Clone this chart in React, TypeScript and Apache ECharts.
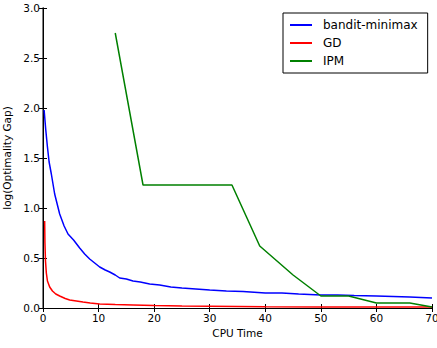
import React, { useEffect, useRef } from "react";
import * as echarts from "echarts";

const banditX = [0.2, 0.5, 0.8, 1.1, 1.5, 2.1, 3.0, 3.8, 4.5, 5.5, 6.6, 7.5, 8.4, 9.3, 10.2, 11.2, 12, 13, 13.8, 15, 16.2, 17.5, 19.2, 21, 23, 25, 27.5, 30, 33, 36, 40, 43, 46, 50, 53, 56, 60, 63, 66, 70];
const banditY = [1.98, 1.78, 1.61, 1.46, 1.34, 1.14, 0.94, 0.82, 0.74, 0.68, 0.6, 0.54, 0.49, 0.45, 0.41, 0.38, 0.36, 0.33, 0.3, 0.29, 0.27, 0.26, 0.24, 0.23, 0.21, 0.2, 0.19, 0.18, 0.17, 0.165, 0.15, 0.15, 0.14, 0.13, 0.13, 0.125, 0.12, 0.115, 0.11, 0.1];

const gdX = [0.3, 0.35, 0.45, 0.6, 0.8, 1.2, 1.7, 2.3, 3.0, 4.0, 4.8, 6, 7.2, 8.5, 10.2, 13, 16.2, 20, 25, 30, 40, 50, 60, 70];
const gdY = [0.87, 0.65, 0.47, 0.35, 0.27, 0.21, 0.17, 0.14, 0.12, 0.095, 0.08, 0.07, 0.06, 0.05, 0.04, 0.035, 0.03, 0.025, 0.02, 0.017, 0.013, 0.011, 0.01, 0.01];

const ipmX = [13, 18, 34, 39, 45, 50, 55, 60, 66, 70];
const ipmY = [2.75, 1.23, 1.23, 0.62, 0.33, 0.12, 0.12, 0.05, 0.05, 0.01];

const seriesNames = ["bandit-minimax", "GD", "IPM"];
const xTitle = "CPU Time";
const yTitle = "log(Optimality Gap)";

const zip = (xs: number[], ys: number[]) => xs.map((x, i) => [x, ys[i]]);

export default function App() {
  const ref = useRef<HTMLDivElement>(null);
  useEffect(() => {
    const chart = echarts.init(ref.current!, null, { renderer: "svg" });
    const font = "DejaVu Sans";
    const axisLine = { show: true, lineStyle: { color: "#000", width: 1 } };
    const tick = { show: true, inside: true, length: 4, lineStyle: { color: "#000" } };
    chart.setOption({
      animation: false,
      backgroundColor: "#fff",
      grid: { left: 43, right: 5, top: 8, bottom: 40, containLabel: false, outerBoundsMode: "none" },
      legend: {
        orient: "vertical",
        left: 283,
        top: 13,
        width: 143,
        padding: [5, 10, 5, 7],
        itemGap: 4,
        itemWidth: 22,
        itemHeight: 2,
        icon: "rect",
        borderColor: "#000",
        borderWidth: 1,
        backgroundColor: "#fff",
        textStyle: { fontFamily: font, fontSize: 12, color: "#000", padding: [0, 0, 0, 6], lineHeight: 14 },
        data: seriesNames,
      },
      xAxis: [
        {
          type: "value",
          min: 0,
          max: 70,
          interval: 10,
          name: xTitle,
          nameLocation: "middle",
          nameGap: 16,
          nameTextStyle: { fontFamily: font, fontSize: 10.5, color: "#000" },
          axisLine,
          axisTick: tick,
          axisLabel: { fontFamily: font, fontSize: 10.5, color: "#000", margin: 4 },
          splitLine: { show: false },
        },
        {
          type: "value",
          position: "top",
          min: 0,
          max: 70,
          interval: 10,
          axisLine,
          axisTick: tick,
          axisLabel: { show: false },
          splitLine: { show: false },
        },
      ],
      yAxis: [
        {
          type: "value",
          min: 0,
          max: 3,
          interval: 0.5,
          name: yTitle,
          nameLocation: "middle",
          nameGap: 29,
          nameTextStyle: { fontFamily: font, fontSize: 10.5, color: "#000" },
          axisLine: { show: true, lineStyle: { color: "#555", width: 1.5 } },
          axisTick: tick,
          axisLabel: { fontFamily: font, fontSize: 10.5, color: "#000", margin: 3, formatter: (v: number) => v.toFixed(1) },
          splitLine: { show: false },
        },
        {
          type: "value",
          position: "right",
          min: 0,
          max: 3,
          interval: 0.5,
          axisLine,
          axisTick: tick,
          axisLabel: { show: false },
          splitLine: { show: false },
        },
      ],
      series: [
        {
          name: seriesNames[0],
          type: "line",
          data: zip(banditX, banditY),
          symbol: "none",
          lineStyle: { color: "#0000ff", width: 1.5 },
          itemStyle: { color: "#0000ff" },
        },
        {
          name: seriesNames[1],
          type: "line",
          data: zip(gdX, gdY),
          symbol: "none",
          lineStyle: { color: "#ff0000", width: 1.5 },
          itemStyle: { color: "#ff0000" },
        },
        {
          name: seriesNames[2],
          type: "line",
          data: zip(ipmX, ipmY),
          symbol: "none",
          lineStyle: { color: "#008000", width: 1.5 },
          itemStyle: { color: "#008000" },
        },
      ],
    });
    return () => chart.dispose();
  }, []);
  return <div ref={ref} style={{ width: 437, height: 348, position: "absolute", left: 0, top: 0 }} />;
}
